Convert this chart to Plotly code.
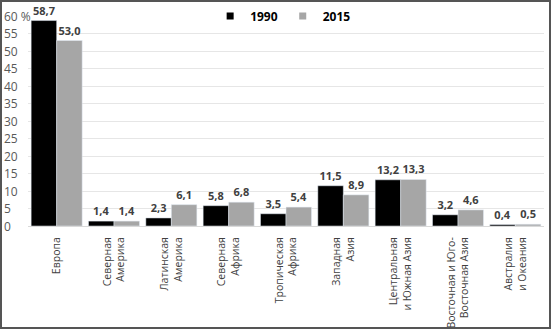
import plotly.graph_objects as go

regions = ["Европа", "Северная<br>Америка", "Латинская<br>Америка", "Северная<br>Африка",
           "Тропическая<br>Африка", "Западная<br>Азия", "Центральная<br>и Южная Азия",
           "Восточная и Юго-<br>Восточная Азия", "Австралия<br>и Океания"]
share_1990 = [58.7, 1.4, 2.3, 5.8, 3.5, 11.5, 13.2, 3.2, 0.4]
share_2015 = [53.0, 1.4, 6.1, 6.8, 5.4, 8.9, 13.3, 4.6, 0.5]
y_ticks = [0, 5, 10, 15, 20, 25, 30, 35, 40, 45, 50, 55, 60]
y_ticktext = [str(t) for t in y_ticks[:-1]] + ["60 %"]
series = [("1990", share_1990, "#000000"), ("2015", share_2015, "#a6a6a6")]


def fmt(vals):
    return [f"<b>{v:.1f}</b>".replace(".", ",") for v in vals]


W, H = 551, 329
ml, mr, mt, mb = 28, 7, 16, 103
pw, ph = W - ml - mr, H - mt - mb

fig = go.Figure()
for name, vals, color in series:
    fig.add_trace(go.Bar(x=regions, y=vals, name=name, marker_color=color,
                         text=fmt(vals), textposition="outside", cliponaxis=False,
                         textfont=dict(size=11, color="#404040"), showlegend=False,
                         legendgroup=name))
# small square legend keys
for name, vals, color in series:
    fig.add_trace(go.Scatter(x=[None], y=[None], mode="markers", name=f"<b>{name}</b>",
                             marker=dict(symbol="square", size=7, color=color),
                             legendgroup=name))

# left-aligned value-axis labels
for t, lab in zip(y_ticks, y_ticktext):
    fig.add_annotation(x=(2 - ml) / pw, xref="paper", y=t, yref="y", text=lab,
                       showarrow=False, xanchor="left", yanchor="middle",
                       font=dict(size=12, color="#595959"))

# outer frame
fig.add_shape(type="rect", xref="paper", yref="paper",
              x0=(1 - ml) / pw, x1=1 + (mr - 1) / pw,
              y0=-(mb - 1) / ph, y1=1 + (mt - 1) / ph,
              line=dict(color="#555555", width=2), layer="above")

fig.update_layout(
    width=W, height=H,
    margin=dict(l=ml, r=mr, t=mt, b=mb, autoexpand=False),
    paper_bgcolor="white", plot_bgcolor="white",
    barmode="group", bargap=0.11, bargroupgap=0.0,
    font=dict(family="Open Sans", color="#595959", size=12),
    showlegend=True,
    legend=dict(orientation="h", x=0.353, y=1.0, xanchor="left", yanchor="middle",
                font=dict(size=12, color="#000000"), bgcolor="rgba(0,0,0,0)",
                itemwidth=30, traceorder="normal"),
)
fig.update_xaxes(tickangle=-90, tickfont=dict(size=10.5, color="#404040"),
                 showline=True, linecolor="#d9d9d9", ticks="", automargin=False,
                 ticklabelstandoff=6)
fig.update_yaxes(range=[0, 60], tickvals=y_ticks, showticklabels=False,
                 showgrid=True, gridcolor="#e6e6e6", zeroline=False, automargin=False)

fig.write_html("out.html")
